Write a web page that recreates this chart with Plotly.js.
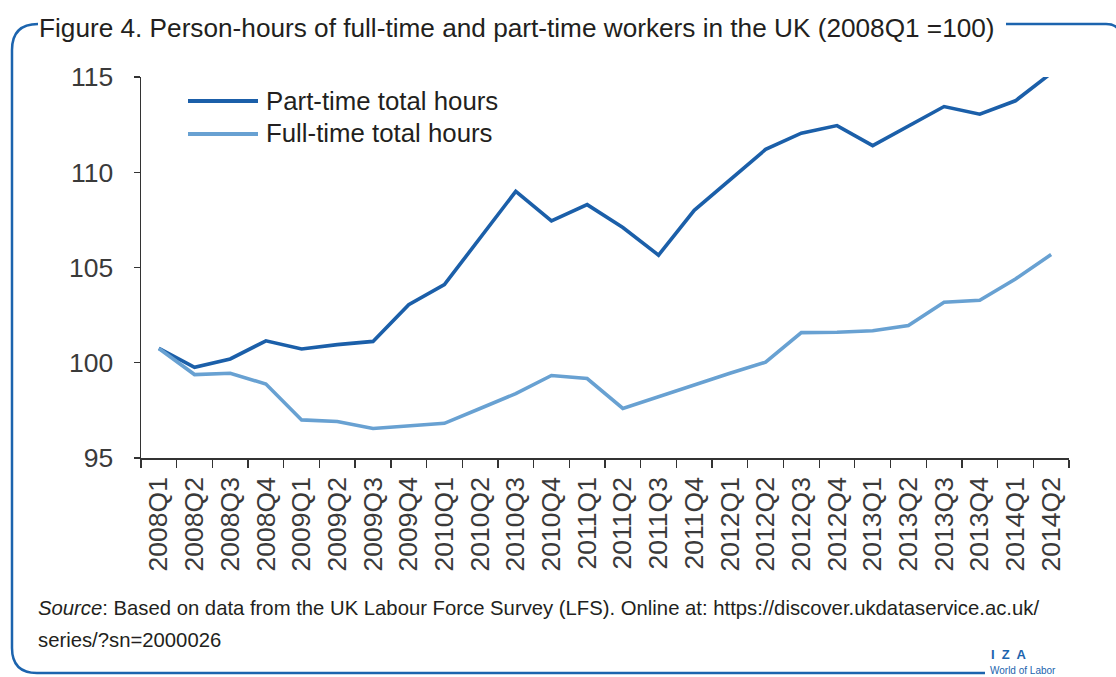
<!DOCTYPE html>
<html>
<head>
<meta charset="utf-8">
<script src="https://cdn.plot.ly/plotly-3.0.1.min.js"></script>
<style>
html,body{margin:0;padding:0;background:#fff;}
#chart{width:1116px;height:677px;}
</style>
</head>
<body>
<div id="chart"></div>
<script>
// ---- Data ----
const quarters = ["2008Q1","2008Q2","2008Q3","2008Q4","2009Q1","2009Q2","2009Q3","2009Q4",
  "2010Q1","2010Q2","2010Q3","2010Q4","2011Q1","2011Q2","2011Q3","2011Q4",
  "2012Q1","2012Q2","2012Q3","2012Q4","2013Q1","2013Q2","2013Q3","2013Q4","2014Q1","2014Q2"];
const partTimeName = "Part-time total hours";
const partTime = [100.75,99.76,100.2,101.15,100.72,100.95,101.12,103.05,104.1,106.55,109.0,107.45,
  108.3,107.1,105.65,108.0,109.6,111.2,112.05,112.45,111.4,112.45,113.45,113.05,113.75,115.2];
const fullTimeName = "Full-time total hours";
const fullTime = [100.75,99.38,99.45,98.88,97.0,96.92,96.55,96.68,96.82,97.6,98.38,99.33,
  99.17,97.6,98.22,98.82,99.45,100.03,101.58,101.6,101.68,101.95,103.18,103.28,104.4,105.68];
const yTicks = [95,100,105,110,115];
const titleText = "Figure 4. Person-hours of full-time and part-time workers in the UK (2008Q1 =100)";
const sourceLine1 = "<i>Source</i>: Based on data from the UK Labour Force Survey (LFS). Online at: https://discover.ukdataservice.ac.uk/";
const sourceLine2 = "series/?sn=2000026";

// ---- Layout geometry (pixels) ----
const W = 1116, H = 677;
const mL = 141, mR = 47, mT = 77, mB = 219;
const pw = W - mL - mR, ph = H - mT - mB;
const px = x => (x - mL) / pw;
const py = y => (H - mB - y) / ph;

const darkBlue = "#1b5fa9";
const lightBlue = "#68a1d2";
const frameBlue = "#1c64ae";
const FONT = "Liberation Sans, Arial, sans-serif";

function P(x,y){ return px(x).toFixed(5)+","+py(y).toFixed(5); }
const frameLeft = "M"+P(38,24)+" Q"+P(12,24)+" "+P(12,50)+" L"+P(12,648)+" Q"+P(12,673)+" "+P(37,673)+" L"+P(985,673);
const frameRight = "M"+P(1006,24)+" L"+P(1106,24)+" Q"+P(1122,24)+" "+P(1122,42);

const traces = [
  {x: quarters, y: partTime, name: partTimeName, type: "scatter", mode: "lines",
   line: {color: darkBlue, width: 3.6}, showlegend: false, cliponaxis: false},
  {x: quarters, y: fullTime, name: fullTimeName, type: "scatter", mode: "lines",
   line: {color: lightBlue, width: 3.6}, showlegend: false, cliponaxis: false}
];

const layout = {
  width: W, height: H,
  margin: {l: mL, r: mR, t: mT, b: mB, pad: 0},
  paper_bgcolor: "#fff", plot_bgcolor: "#fff",
  font: {family: FONT, color: "#231f20"},
  title: {text: titleText, x: 39/W, xanchor: "left", xref: "container",
          y: 1 - 28/H, yanchor: "middle", yref: "container",
          font: {family: FONT, size: 26.2, color: "#231f20"}},
  xaxis: {type: "category", tickangle: -90, tickson: "boundaries",
          ticks: "outside", ticklen: 8, tickwidth: 1.3, tickcolor: "#333",
          showline: true, linecolor: "#333", linewidth: 1.5,
          showgrid: false, zeroline: false, ticklabelstandoff: 7,
          tickfont: {family: FONT, size: 26.5, color: "#3a3a3a"},
          range: [-0.5, quarters.length - 0.5]},
  yaxis: {range: [95, 115], tickvals: yTicks, ticktext: yTicks.map(String),
          ticks: "outside", ticklen: 6, tickwidth: 1.3, tickcolor: "#333",
          showline: true, linecolor: "#333", linewidth: 1.5,
          showgrid: false, zeroline: false, ticklabelstandoff: 15,
          tickfont: {family: FONT, size: 26.5, color: "#3a3a3a"}},
  shapes: [
    {type: "path", xref: "paper", yref: "paper", path: frameLeft,
     line: {color: frameBlue, width: 2.5}, layer: "below"},
    {type: "path", xref: "paper", yref: "paper", path: frameRight,
     line: {color: frameBlue, width: 2.5}, layer: "below"},
    // legend lines
    {type: "line", xref: "paper", yref: "paper", x0: px(188), x1: px(258), y0: py(101), y1: py(101),
     line: {color: darkBlue, width: 4}},
    {type: "line", xref: "paper", yref: "paper", x0: px(188), x1: px(258), y0: py(134), y1: py(134),
     line: {color: lightBlue, width: 4}}
  ],
  annotations: [
    {text: partTimeName, xref: "paper", yref: "paper", x: px(264), y: py(101), xanchor: "left", yanchor: "middle",
     showarrow: false, font: {family: FONT, size: 25.8, color: "#231f20"}},
    {text: fullTimeName, xref: "paper", yref: "paper", x: px(264), y: py(133), xanchor: "left", yanchor: "middle",
     showarrow: false, font: {family: FONT, size: 25.8, color: "#231f20"}},
    {text: sourceLine1, xref: "paper", yref: "paper", x: px(36), y: py(608), xanchor: "left", yanchor: "middle",
     showarrow: false, font: {family: FONT, size: 20.3, color: "#231f20"}},
    {text: sourceLine2, xref: "paper", yref: "paper", x: px(36), y: py(640), xanchor: "left", yanchor: "middle",
     showarrow: false, font: {family: FONT, size: 20.3, color: "#231f20"}},
    {text: "<b>I  Z  A</b>", xref: "paper", yref: "paper", x: px(990), y: py(654), xanchor: "left", yanchor: "middle",
     showarrow: false, borderpad: 0, font: {family: FONT, size: 13, color: frameBlue}},
    {text: "World of Labor", xref: "paper", yref: "paper", x: px(989), y: py(670), xanchor: "left", yanchor: "middle",
     showarrow: false, borderpad: 0, font: {family: FONT, size: 10, color: frameBlue}}
  ]
};

Plotly.newPlot("chart", traces, layout, {staticPlot: true, displayModeBar: false});
</script>
</body>
</html>
